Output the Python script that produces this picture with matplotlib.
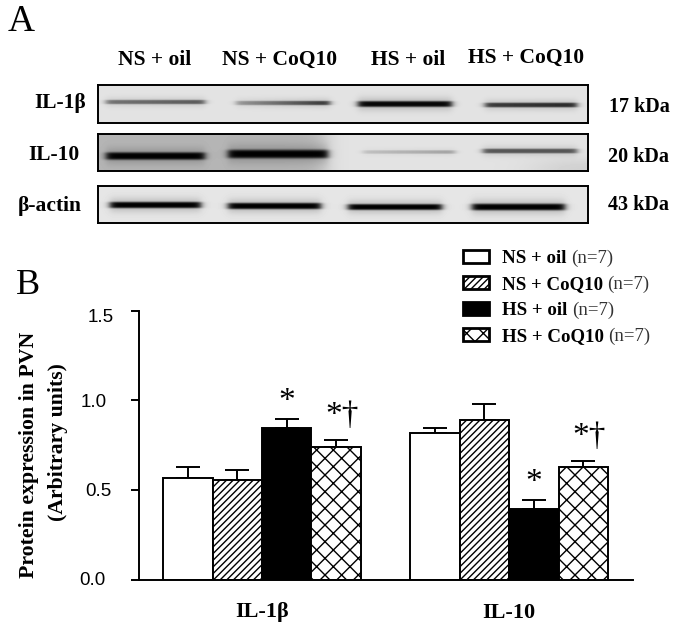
import numpy as np
import matplotlib
matplotlib.use("Agg")
import matplotlib.pyplot as plt
from matplotlib.transforms import ScaledTranslation

# ---------- data ----------
groups = ["IL-1β", "IL-10"]
treatments = ["NS + oil", "NS + CoQ10", "HS + oil", "HS + CoQ10"]
n_labels = ["(n=7)", "(n=7)", "(n=7)", "(n=7)"]
il1b_means = [0.564, 0.554, 0.848, 0.740]
il1b_errs = [0.066, 0.056, 0.049, 0.036]
il10_means = [0.818, 0.889, 0.394, 0.630]
il10_errs = [0.028, 0.091, 0.052, 0.030]
il1b_marks = ["", "", "*", "*†"]
il10_marks = ["", "", "*", "*†"]
y_ticks = [0.0, 0.5, 1.0, 1.5]
blot_names = ["IL-1β", "IL-10", "β-actin"]
blot_weights = ["17 kDa", "20 kDa", "43 kDa"]
il1b_band = [0.55, 0.55, 0.97, 0.78]
il10_band = [1.00, 1.00, 0.22, 0.62]
actin_band = [1.00, 1.00, 1.00, 1.00]

# ---------- layout ----------
W, H = 675, 627
SERIF = "Liberation Serif"
plt.rcParams["hatch.linewidth"] = 1.0
fig = plt.figure(figsize=(W / 100, H / 100), dpi=100, facecolor="white")


def px_text(x, y, s, **kw):
    return fig.text(x / W, 1 - y / H, s, **kw)


def blot(top, bottom, bands, lanes, ys, thick, ramps, bg):
    left, right = 98, 588
    ax = fig.add_axes([left / W, 1 - bottom / H, (right - left) / W, (bottom - top) / H])
    xx, yy = np.meshgrid(np.arange(left, right) + .5, np.arange(top, bottom) + .5)
    img = bg(xx, yy).astype(float)
    for b, (x0, x1), yc, t, r in zip(bands, lanes, ys, thick, ramps):
        edge = 0.5 * (np.tanh((xx - x0) / 4) - np.tanh((xx - x1) / 4))
        ramp = 1 + r * (xx - (x0 + x1) / 2) / ((x1 - x0) / 2)
        prof = (np.exp(-((yy - yc) / t) ** 4) * 0.8
                + np.exp(-((yy - yc) / (t * 2.2)) ** 2) * 0.2)
        img = img * (1 - np.clip(b * ramp, 0, 1) * edge * prof)
    ax.imshow(img, cmap="gray", vmin=0, vmax=1, aspect="auto", interpolation="bilinear")
    ax.set_xticks([]); ax.set_yticks([])
    for s in ax.spines.values():
        s.set_linewidth(1.4)
    return ax


blot(85, 123, il1b_band,
     [(106, 205), (236, 330), (358, 452), (485, 577)],
     [102, 103, 104, 105], [2.2, 2.2, 3.0, 2.4], [0.1, 0.4, 0.0, 0.05],
     lambda x, y: np.full_like(x, 0.89))
blot(134, 171, il10_band,
     [(106, 205), (228, 328), (363, 455), (483, 577)],
     [156, 154, 152, 151], [3.8, 4.4, 1.8, 2.4], [0, 0, 0.3, 0],
     lambda x, y: (0.89 - 0.18 * (0.5 - 0.5 * np.tanh((x - 325) / 12))
                   - 0.08 * (0.5 + 0.5 * np.tanh((x - 540) / 30))
                   * (0.5 + 0.5 * np.tanh((y - 160) / 6))))
blot(186, 223, actin_band,
     [(110, 201), (228, 321), (348, 442), (472, 565)],
     [205, 206, 207, 207], [3.2, 3.2, 3.0, 3.4], [0, 0, 0, 0],
     lambda x, y: np.full_like(x, 0.90))

lane_x = [155, 280, 408, 526]
for s, x, y in zip(treatments, lane_x, [60, 60, 60, 58]):
    px_text(x, y, s, family=SERIF, weight="bold", fontsize=15.5, ha="center", va="center")
for s, x, y in zip(blot_names, [60, 54, 50], [103, 155, 206]):
    px_text(x, y, s, family=SERIF, weight="bold", fontsize=15.5, ha="center", va="center")
for s, x, y in zip(blot_weights, [639, 638, 638], [107, 157, 205]):
    px_text(x, y, s, family=SERIF, weight="bold", fontsize=14.5, ha="center", va="center")

px_text(8, 31, "A", family=SERIF, fontsize=27, ha="left", va="baseline")
px_text(16, 294, "B", family=SERIF, fontsize=26, ha="left", va="baseline")

# ---------- bar chart ----------
ax = fig.add_axes([138.5 / W, 1 - 579.5 / H, (632.7 - 138.5) / W, 268.8 / H])
ax.set_xlim(-0.5, 1.5)
ax.set_ylim(0, 1.5)
ax.patch.set_alpha(0)
styles = [dict(facecolor="white"), dict(facecolor="white", hatch="/////"),
          dict(facecolor="black"), dict(facecolor="white", hatch="xx")]
width = 0.2
pos = np.arange(len(groups))
handles = []
for i, st in enumerate(styles):
    means = [il1b_means[i], il10_means[i]]
    errs = [il1b_errs[i], il10_errs[i]]
    x = pos + (i - 1.5) * width
    ax.errorbar(x, means, yerr=[[0, 0], errs], fmt="none", ecolor="black",
                elinewidth=1.4, capsize=8.5, capthick=1.4, zorder=1)
    bars = ax.bar(x, means, width, edgecolor="black", linewidth=1.4, zorder=2, **st)
    handles.append(bars)
    for xi, m, e, mark in zip(x, means, errs, [il1b_marks[i], il10_marks[i]]):
        if mark:
            off = (4, 7) if len(mark) > 1 else (0, 1)
            ax.annotate(mark, (xi, m + e), xytext=off, textcoords="offset points",
                        ha="center", va="bottom", family=SERIF, fontsize=24)

ax.set_yticks(y_ticks, [f"{v:.1f}" for v in y_ticks], family="Liberation Sans", fontsize=13.5)
ax.tick_params(axis="y", length=6, width=1.4, pad=8)
ax.set_xticks([])
ax.spines[["top", "right"]].set_visible(False)
ax.spines[["left", "bottom"]].set_linewidth(1.4)
for lab, dx, dy in zip(ax.get_yticklabels(), [-14, -8, -12, -5], [1, 0, 0, -5]):
    lab.set_transform(lab.get_transform() + ScaledTranslation(dx / 100, dy / 100, fig.dpi_scale_trans))

for s, c in zip(groups, pos):
    ax.annotate(s, (c, 0), xytext=(0, -33), textcoords="offset pixels",
                ha="center", va="center", family=SERIF, weight="bold", fontsize=16)

px_text(29, 455, "Protein expression in PVN", rotation=90, family=SERIF, weight="bold",
        fontsize=15.7, ha="center", va="center")
px_text(58, 442, "(Arbitrary units)", rotation=90, family=SERIF, weight="bold",
        fontsize=15.7, ha="center", va="center")

# legend
leg = fig.legend(handles, treatments, loc="upper left", bbox_to_anchor=(463 / W, 1 - 250 / H),
                 frameon=False, prop=dict(family=SERIF, weight="bold", size=13.6),
                 handlelength=1.38, handleheight=0.7, handletextpad=0.7, labelspacing=0.46,
                 borderpad=0, borderaxespad=0)
for p in leg.get_patches():
    p.set_linewidth(2)
fig.canvas.draw()
for t, s in zip(leg.get_texts(), n_labels):
    bb = t.get_window_extent()
    base = t.get_transform().transform((0, 0))[1]
    fig.text((bb.x1 + 4) / W, base / H, s, family=SERIF, fontsize=13.6,
             color="#333333", ha="left", va="baseline")

fig.savefig("out.png", dpi=100)
